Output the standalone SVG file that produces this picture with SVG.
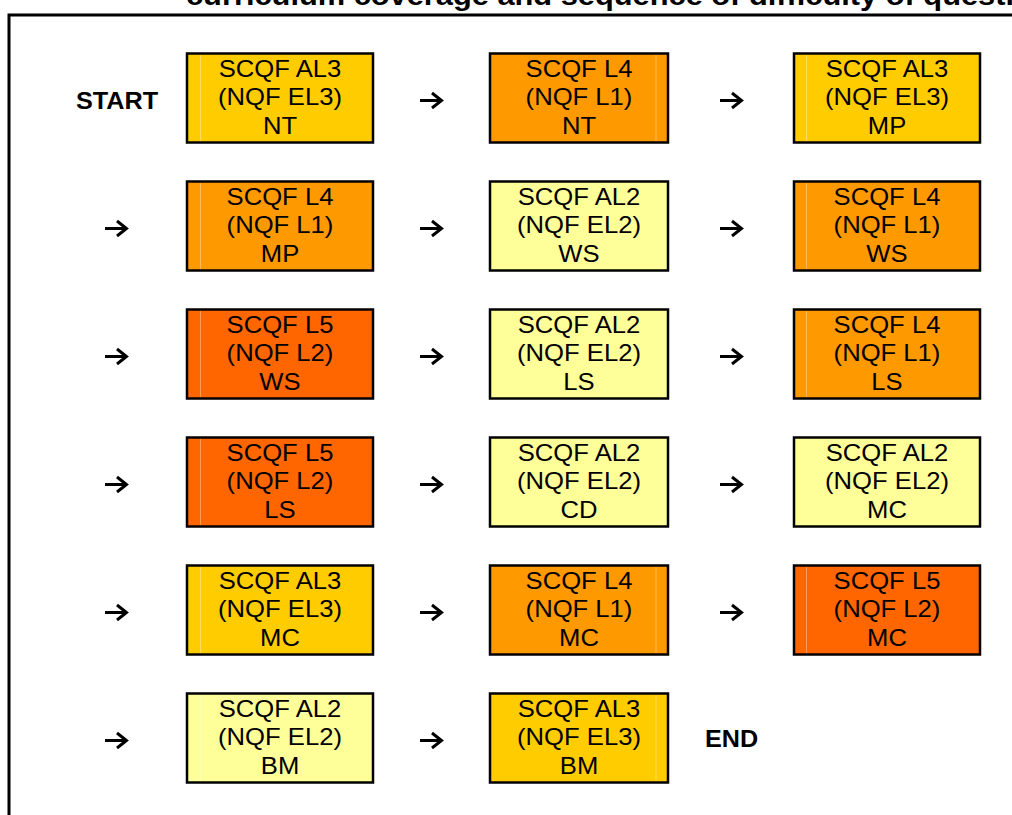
<svg xmlns="http://www.w3.org/2000/svg" width="1012" height="815" viewBox="0 0 1012 815">
<style>
.b{stroke:#000;stroke-width:2.5}
.y{fill:#FFCC00}.o{fill:#FF9900}.r{fill:#FF6600}.l{fill:#FFFF99}
.f{stroke:#fff;stroke-opacity:0.35;stroke-width:1}
.t{font-family:"Liberation Sans",Arial,sans-serif;font-size:23.3px;fill:#000;text-anchor:middle}
.k{font-family:"Liberation Sans",Arial,sans-serif;font-weight:bold;font-size:24px;fill:#000}
.a{fill:none;stroke:#000;stroke-width:3;stroke-linejoin:miter}
</style>
<defs>
<path id="arr" d="M0,0 H21 M12,-7.5 L21.5,0 L12,7.5"/>
</defs>
<rect width="1012" height="815" fill="#fff"/>
<text class="k" transform="translate(186,5) scale(1.1,1)" style="font-size:28px">curriculum coverage and sequence of difficulty of questions</text>
<path d="M9,830 V15 H1030" fill="none" stroke="#000" stroke-width="3"/>
<text class="k" transform="translate(76,109) scale(1.05,1)">START</text>
<text class="k" transform="translate(705,747) scale(1.05,1)">END</text>

<g id="connectors" class="a">
<use href="#arr" x="420" y="100.5"/><use href="#arr" x="720" y="100.5"/>
<use href="#arr" x="105" y="228.5"/><use href="#arr" x="420" y="228.5"/><use href="#arr" x="720" y="228.5"/>
<use href="#arr" x="105" y="356.5"/><use href="#arr" x="420" y="356.5"/><use href="#arr" x="720" y="356.5"/>
<use href="#arr" x="105" y="484.5"/><use href="#arr" x="420" y="484.5"/><use href="#arr" x="720" y="484.5"/>
<use href="#arr" x="105" y="612.5"/><use href="#arr" x="420" y="612.5"/><use href="#arr" x="720" y="612.5"/>
<use href="#arr" x="105" y="740.5"/><use href="#arr" x="420" y="740.5"/>
</g>

<g id="n1"><rect class="b y" x="187" y="53.5" width="186" height="89"/><line class="f" x1="200.5" y1="55" x2="200.5" y2="141"/><text class="t" transform="translate(280,77) scale(1.1,1)"><tspan x="0">SCQF AL3</tspan><tspan x="0" dy="28.5">(NQF EL3)</tspan><tspan x="0" dy="28.5">NT</tspan></text></g>
<g id="n2"><rect class="b o" x="490" y="53.5" width="178" height="89"/><line class="f" x1="656" y1="55" x2="656" y2="141"/><text class="t" transform="translate(579,77) scale(1.1,1)"><tspan x="0">SCQF L4</tspan><tspan x="0" dy="28.5">(NQF L1)</tspan><tspan x="0" dy="28.5">NT</tspan></text></g>
<g id="n3"><rect class="b y" x="794" y="53.5" width="186" height="89"/><line class="f" x1="806.5" y1="55" x2="806.5" y2="141"/><text class="t" transform="translate(887,77) scale(1.1,1)"><tspan x="0">SCQF AL3</tspan><tspan x="0" dy="28.5">(NQF EL3)</tspan><tspan x="0" dy="28.5">MP</tspan></text></g>

<g id="n4"><rect class="b o" x="187" y="181.5" width="186" height="89"/><line class="f" x1="200.5" y1="183" x2="200.5" y2="269"/><text class="t" transform="translate(280,205) scale(1.1,1)"><tspan x="0">SCQF L4</tspan><tspan x="0" dy="28.5">(NQF L1)</tspan><tspan x="0" dy="28.5">MP</tspan></text></g>
<g id="n5"><rect class="b l" x="490" y="181.5" width="178" height="89"/><text class="t" transform="translate(579,205) scale(1.1,1)"><tspan x="0">SCQF AL2</tspan><tspan x="0" dy="28.5">(NQF EL2)</tspan><tspan x="0" dy="28.5">WS</tspan></text></g>
<g id="n6"><rect class="b o" x="794" y="181.5" width="186" height="89"/><line class="f" x1="806.5" y1="183" x2="806.5" y2="269"/><text class="t" transform="translate(887,205) scale(1.1,1)"><tspan x="0">SCQF L4</tspan><tspan x="0" dy="28.5">(NQF L1)</tspan><tspan x="0" dy="28.5">WS</tspan></text></g>

<g id="n7"><rect class="b r" x="187" y="309.5" width="186" height="89"/><line class="f" x1="200.5" y1="311" x2="200.5" y2="397"/><text class="t" transform="translate(280,333) scale(1.1,1)"><tspan x="0">SCQF L5</tspan><tspan x="0" dy="28.5">(NQF L2)</tspan><tspan x="0" dy="28.5">WS</tspan></text></g>
<g id="n8"><rect class="b l" x="490" y="309.5" width="178" height="89"/><text class="t" transform="translate(579,333) scale(1.1,1)"><tspan x="0">SCQF AL2</tspan><tspan x="0" dy="28.5">(NQF EL2)</tspan><tspan x="0" dy="28.5">LS</tspan></text></g>
<g id="n9"><rect class="b o" x="794" y="309.5" width="186" height="89"/><line class="f" x1="806.5" y1="311" x2="806.5" y2="397"/><text class="t" transform="translate(887,333) scale(1.1,1)"><tspan x="0">SCQF L4</tspan><tspan x="0" dy="28.5">(NQF L1)</tspan><tspan x="0" dy="28.5">LS</tspan></text></g>

<g id="n10"><rect class="b r" x="187" y="437.5" width="186" height="89"/><line class="f" x1="200.5" y1="439" x2="200.5" y2="525"/><text class="t" transform="translate(280,461) scale(1.1,1)"><tspan x="0">SCQF L5</tspan><tspan x="0" dy="28.5">(NQF L2)</tspan><tspan x="0" dy="28.5">LS</tspan></text></g>
<g id="n11"><rect class="b l" x="490" y="437.5" width="178" height="89"/><text class="t" transform="translate(579,461) scale(1.1,1)"><tspan x="0">SCQF AL2</tspan><tspan x="0" dy="28.5">(NQF EL2)</tspan><tspan x="0" dy="28.5">CD</tspan></text></g>
<g id="n12"><rect class="b l" x="794" y="437.5" width="186" height="89"/><text class="t" transform="translate(887,461) scale(1.1,1)"><tspan x="0">SCQF AL2</tspan><tspan x="0" dy="28.5">(NQF EL2)</tspan><tspan x="0" dy="28.5">MC</tspan></text></g>

<g id="n13"><rect class="b y" x="187" y="565.5" width="186" height="89"/><line class="f" x1="200.5" y1="567" x2="200.5" y2="653"/><text class="t" transform="translate(280,589) scale(1.1,1)"><tspan x="0">SCQF AL3</tspan><tspan x="0" dy="28.5">(NQF EL3)</tspan><tspan x="0" dy="28.5">MC</tspan></text></g>
<g id="n14"><rect class="b o" x="490" y="565.5" width="178" height="89"/><line class="f" x1="656" y1="567" x2="656" y2="653"/><text class="t" transform="translate(579,589) scale(1.1,1)"><tspan x="0">SCQF L4</tspan><tspan x="0" dy="28.5">(NQF L1)</tspan><tspan x="0" dy="28.5">MC</tspan></text></g>
<g id="n15"><rect class="b r" x="794" y="565.5" width="186" height="89"/><line class="f" x1="806.5" y1="567" x2="806.5" y2="653"/><text class="t" transform="translate(887,589) scale(1.1,1)"><tspan x="0">SCQF L5</tspan><tspan x="0" dy="28.5">(NQF L2)</tspan><tspan x="0" dy="28.5">MC</tspan></text></g>

<g id="n16"><rect class="b l" x="187" y="693.5" width="186" height="89"/><line class="f" x1="200.5" y1="695" x2="200.5" y2="781"/><text class="t" transform="translate(280,717) scale(1.1,1)"><tspan x="0">SCQF AL2</tspan><tspan x="0" dy="28.5">(NQF EL2)</tspan><tspan x="0" dy="28.5">BM</tspan></text></g>
<g id="n17"><rect class="b y" x="490" y="693.5" width="178" height="89"/><line class="f" x1="656" y1="695" x2="656" y2="781"/><text class="t" transform="translate(579,717) scale(1.1,1)"><tspan x="0">SCQF AL3</tspan><tspan x="0" dy="28.5">(NQF EL3)</tspan><tspan x="0" dy="28.5">BM</tspan></text></g>
</svg>
